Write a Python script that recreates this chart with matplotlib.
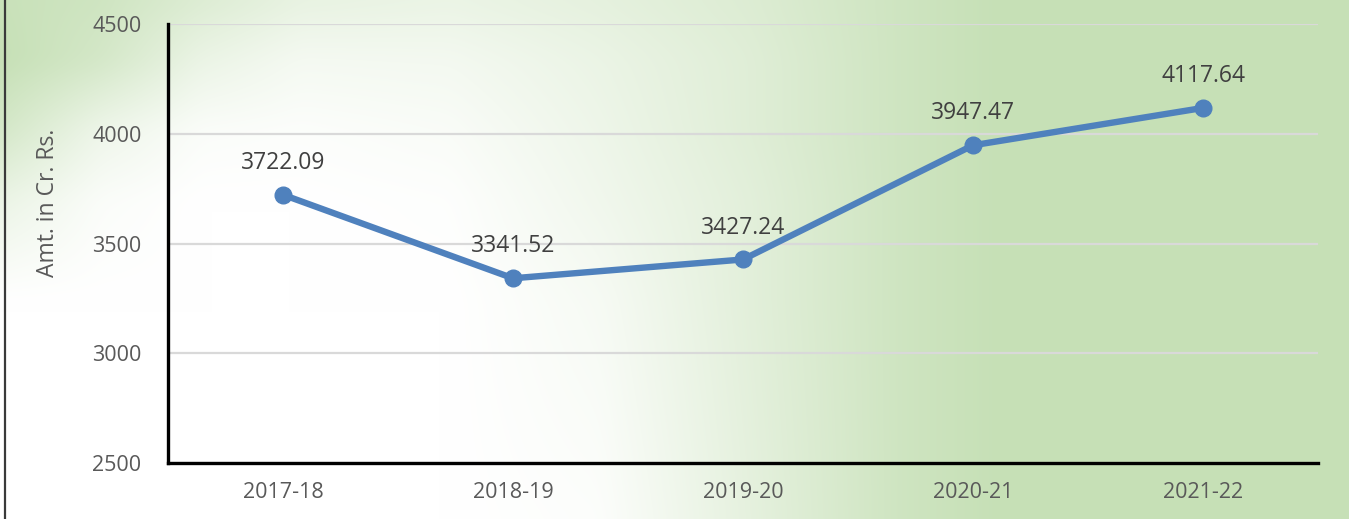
import numpy as np
import matplotlib
matplotlib.use("Agg")
import matplotlib.pyplot as plt
from matplotlib.lines import Line2D

years = ["2017-18", "2018-19", "2019-20", "2020-21", "2021-22"]
amounts = [3722.09, 3341.52, 3427.24, 3947.47, 4117.64]
y_ticks = [2500, 3000, 3500, 4000, 4500]

W, H = 1349, 519
fig = plt.figure(figsize=(W / 100, H / 100), dpi=100)

# soft green/white backdrop: green share sampled on a coarse grid, then interpolated
gx = np.array([0, 100, 200, 300, 450, 600, 750, 900, 1000, W])
gy = np.array([0, 60, 130, 200, 300, H])
G = np.array([
    [0.95, 0.85, 0.60, 0.40, 0.35, 0.45, 0.60, 0.85, 1.0, 1.0],
    [1.00, 0.75, 0.35, 0.18, 0.20, 0.35, 0.55, 0.85, 1.0, 1.0],
    [0.75, 0.30, 0.08, 0.05, 0.10, 0.30, 0.55, 0.85, 1.0, 1.0],
    [0.35, 0.08, 0.00, 0.00, 0.03, 0.25, 0.50, 0.85, 1.0, 1.0],
    [0.00, 0.00, 0.00, 0.00, 0.00, 0.15, 0.50, 0.85, 1.0, 1.0],
    [0.00, 0.00, 0.00, 0.00, 0.00, 0.05, 0.45, 0.85, 1.0, 1.0],
])
xs = np.arange(W)
ys = np.arange(H)
rows = np.array([np.interp(xs, gx, r) for r in G])          # len(gy) x W
g = np.array([np.interp(ys, gy, rows[:, j]) for j in range(W)]).T  # H x W
# light box blur to soften the interpolation seams
k = 25
kern = np.ones(k) / k
g = np.pad(g, k // 2, mode="edge")
g = np.apply_along_axis(lambda r: np.convolve(r, kern, mode="valid"), 1, g)
g = np.apply_along_axis(lambda c: np.convolve(c, kern, mode="valid"), 0, g)
g = np.clip(g, 0, 1)

green = np.array([198, 224, 182]) / 255.0
white = np.array([1.0, 1.0, 1.0])
img = white[None, None, :] * (1 - g[..., None]) + green[None, None, :] * g[..., None]

bg = fig.add_axes([0, 0, 1, 1], zorder=0)
bg.imshow(img, aspect="auto", extent=[0, 1, 0, 1], origin="upper")
bg.set_axis_off()

# frame line on the left edge
fig.add_artist(Line2D([4.5 / W, 4.5 / W], [0, 1], transform=fig.transFigure,
                      color="#3a3a3a", lw=1.6))

ax = fig.add_axes([168 / W, 1 - 463 / H, (1318 - 168) / W, (463 - 24) / H], zorder=1)
ax.patch.set_alpha(0)

x = np.arange(len(years))
ax.plot(x, amounts, color="#4f81bd", lw=4.6, marker="o", markersize=12,
        solid_capstyle="round", zorder=3)

font = "Open Sans"
for xi, v in zip(x, amounts):
    ax.annotate(f"{v:.2f}", (xi, v), xytext=(0, 23), textcoords="offset points",
                ha="center", va="center", fontsize=16.5, color="#404040",
                family=font)

ax.set_xlim(-0.5, len(years) - 0.5)
ax.set_ylim(y_ticks[0], y_ticks[-1])
ax.set_yticks(y_ticks)
ax.set_xticks(x)
ax.set_xticklabels(years)
ax.tick_params(axis="both", length=0, labelsize=15.5, labelcolor="#595959")
ax.tick_params(axis="y", pad=19)
ax.tick_params(axis="x", pad=14)
for lab in ax.get_xticklabels() + ax.get_yticklabels():
    lab.set_family(font)

ax.grid(axis="y", color="#d9d9d9", lw=1.6)
ax.set_axisbelow(True)
for s in ["top", "right"]:
    ax.spines[s].set_visible(False)
for s in ["left", "bottom"]:
    ax.spines[s].set_color("black")
    ax.spines[s].set_linewidth(2.4)

fig.text(48 / W, 1 - 203 / H, "Amt. in Cr. Rs.", rotation=90, ha="center",
         va="center", fontsize=16.5, color="#595959", family=font)

fig.savefig("out.png", dpi=100)
